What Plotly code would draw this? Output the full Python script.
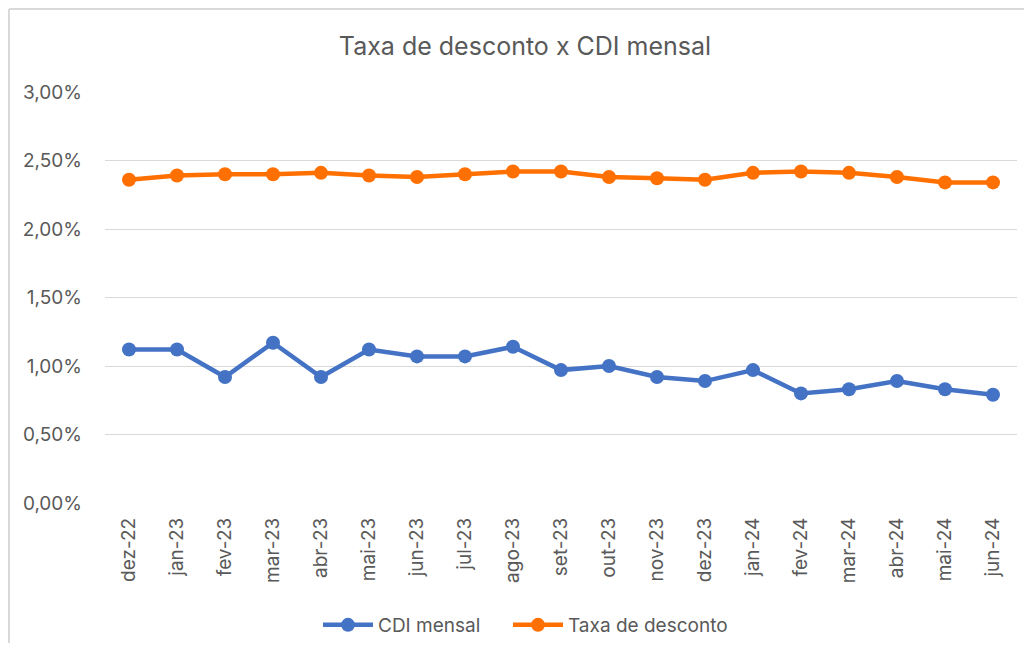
import plotly.graph_objects as go

months = ["dez-22", "jan-23", "fev-23", "mar-23", "abr-23", "mai-23", "jun-23", "jul-23",
          "ago-23", "set-23", "out-23", "nov-23", "dez-23", "jan-24", "fev-24", "mar-24",
          "abr-24", "mai-24", "jun-24"]
cdi_mensal = [1.12, 1.12, 0.92, 1.17, 0.92, 1.12, 1.07, 1.07, 1.14, 0.97, 1.00, 0.92,
              0.89, 0.97, 0.80, 0.83, 0.89, 0.83, 0.79]
taxa_desconto = [2.36, 2.39, 2.40, 2.40, 2.41, 2.39, 2.38, 2.40, 2.42, 2.42, 2.38, 2.37,
                 2.36, 2.41, 2.42, 2.41, 2.38, 2.34, 2.34]
y_ticks = [0, 0.5, 1.0, 1.5, 2.0, 2.5, 3.0]

BLUE = "#4472C4"
ORANGE = "#FF7000"
GRAY = "#595959"
FONT = "Inter, Noto Sans, sans-serif"

fig = go.Figure()
fig.add_trace(go.Scatter(
    x=months, y=[v / 100 for v in cdi_mensal], name="CDI mensal",
    mode="lines+markers", line=dict(color=BLUE, width=4.5),
    marker=dict(color=BLUE, size=14), legend="legend"))
fig.add_trace(go.Scatter(
    x=months, y=[v / 100 for v in taxa_desconto], name="Taxa de desconto",
    mode="lines+markers", line=dict(color=ORANGE, width=4.5),
    marker=dict(color=ORANGE, size=14), legend="legend2"))

# page is offset by 8px (body margin on every side); compensate
OFF = 8
W, H = 1032 - 2 * OFF, 651 - 2 * OFF
L, T = 105 - OFF, 92 - OFF
R = W - (1017 - OFF)
B = H - (503 - OFF)
pw, ph = W - L - R, H - T - B

def px_x(x):
    return (x - OFF - L) / pw

def px_y(y):
    return (H - B - (y - OFF)) / ph

legend_style = dict(orientation="h", xanchor="left", y=px_y(625), yanchor="middle",
                    font=dict(family=FONT, size=19, color=GRAY), itemwidth=50,
                    bgcolor="rgba(0,0,0,0)")

fig.update_layout(
    width=W, height=H,
    margin=dict(l=L, r=R, t=T, b=B, pad=0, autoexpand=False),
    paper_bgcolor="white", plot_bgcolor="white",
    separators=",.",
    font=dict(family=FONT, color=GRAY, size=19),
    title=dict(text="Taxa de desconto x CDI mensal", x=px_x(525), xanchor="center",
               y=1 - (46 - OFF) / H, yanchor="middle", xref="paper",
               font=dict(family=FONT, size=25, color=GRAY)),
    xaxis=dict(type="category", range=[-0.5, len(months) - 0.5], tickangle=-90,
               showgrid=False, zeroline=False,
               showline=False, ticks="", tickfont=dict(size=19, color=GRAY),
               ticklabelstandoff=10, automargin=False),
    yaxis=dict(range=[0, 0.03], tickvals=[v / 100 for v in y_ticks], tickformat=".2%",
               showgrid=True, gridcolor="#D9D9D9", gridwidth=1, zeroline=False,
               showline=False, ticks="", tickfont=dict(size=19, color=GRAY),
               ticklabelstandoff=22, automargin=False),
    showlegend=True,
    legend=dict(x=px_x(318), **legend_style),
    legend2=dict(x=px_x(508), **legend_style),
    shapes=[
        dict(type="line", xref="paper", yref="paper", x0=px_x(9), x1=px_x(9),
             y0=px_y(9), y1=px_y(670), line=dict(color="#D9D9D9", width=2)),
        dict(type="line", xref="paper", yref="paper", x0=px_x(9), x1=px_x(1060),
             y0=px_y(9), y1=px_y(9), line=dict(color="#D9D9D9", width=2)),
    ],
)

fig.write_html("out.html")
